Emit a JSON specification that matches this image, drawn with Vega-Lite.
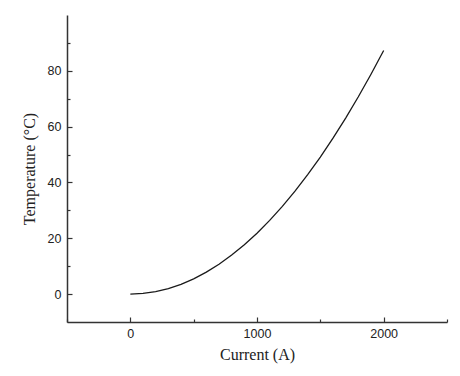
{
  "$schema": "https://vega.github.io/schema/vega-lite/v6.json",
  "width": 380,
  "height": 307,
  "autosize": {"type": "none"},
  "padding": {"left": 67, "top": 15, "right": 13, "bottom": 54},
  "background": "white",
  "config": {"view": {"stroke": null}},
  "data": {"values": [
    {"current": 0, "temp": 0},
    {"current": 100, "temp": 0.22},
    {"current": 200, "temp": 0.87},
    {"current": 300, "temp": 1.96},
    {"current": 400, "temp": 3.49},
    {"current": 500, "temp": 5.46},
    {"current": 600, "temp": 7.86},
    {"current": 700, "temp": 10.69},
    {"current": 800, "temp": 13.97},
    {"current": 900, "temp": 17.68},
    {"current": 1000, "temp": 21.83},
    {"current": 1100, "temp": 26.41},
    {"current": 1200, "temp": 31.43},
    {"current": 1300, "temp": 36.88},
    {"current": 1400, "temp": 42.78},
    {"current": 1500, "temp": 49.11},
    {"current": 1600, "temp": 55.87},
    {"current": 1700, "temp": 63.07},
    {"current": 1800, "temp": 70.71},
    {"current": 1900, "temp": 78.79},
    {"current": 2000, "temp": 87.3}
  ]},
  "mark": {"type": "line", "color": "#1a1a1a", "strokeWidth": 1.3, "clip": true},
  "encoding": {
    "x": {
      "field": "current", "type": "quantitative",
      "scale": {"domain": [-500, 2500], "nice": false, "zero": false},
      "axis": {
        "title": "Current (A)",
        "titleFont": "Liberation Serif", "titleFontSize": 16, "titleFontWeight": "normal", "titleColor": "#222",
        "titlePadding": 6,
        "values": [-500, 0, 500, 1000, 1500, 2000, 2500],
        "labelExpr": "datum.value % 1000 === 0 ? datum.label : ''",
        "format": "d",
        "labelFont": "Liberation Sans", "labelFontSize": 12.5, "labelColor": "#222",
        "labelPadding": 10.5,
        "grid": false,
        "domainColor": "#333", "domainWidth": 1.5,
        "tickColor": "#333", "tickWidth": 1.2,
        "tickSize": {"condition": {"test": "datum.value % 1000 === 0", "value": -5}, "value": -3}
      }
    },
    "y": {
      "field": "temp", "type": "quantitative",
      "scale": {"domain": [-10, 100], "nice": false, "zero": false},
      "axis": {
        "title": "Temperature (°C)",
        "titleFont": "Liberation Serif", "titleFontSize": 16, "titleFontWeight": "normal", "titleColor": "#222",
        "titlePadding": 10,
        "values": [0, 10, 20, 30, 40, 50, 60, 70, 80, 90],
        "labelExpr": "datum.value % 20 === 0 ? datum.label : ''",
        "labelFont": "Liberation Sans", "labelFontSize": 12.5, "labelColor": "#222",
        "labelPadding": 11,
        "grid": false,
        "domainColor": "#333", "domainWidth": 1.5,
        "tickColor": "#333", "tickWidth": 1.2,
        "tickSize": {"condition": {"test": "datum.value % 20 === 0", "value": -5}, "value": -3}
      }
    }
  }
}
